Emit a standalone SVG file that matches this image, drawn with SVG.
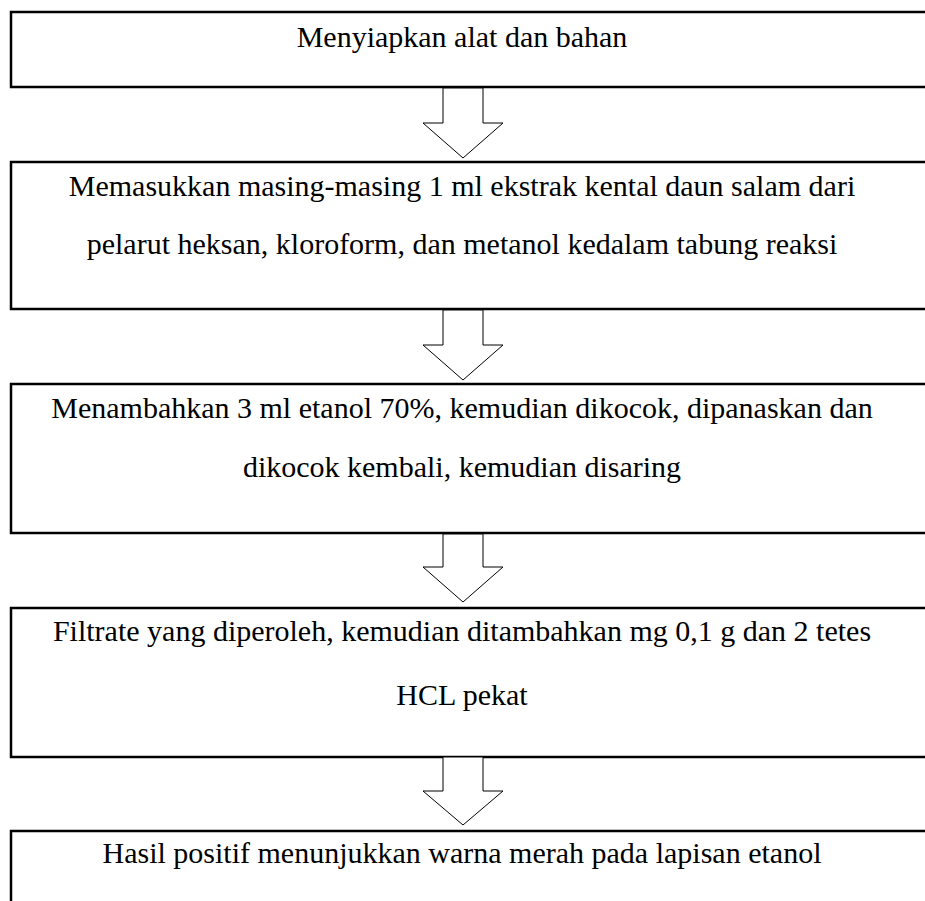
<svg xmlns="http://www.w3.org/2000/svg" width="925" height="901" viewBox="0 0 925 901">
<style>
.box{fill:#fff;stroke:#000;stroke-width:2.5}
.arr{fill:#fff;stroke:#000;stroke-width:1}
text{font-family:"Liberation Serif","Times New Roman",serif;font-size:30px;fill:#000;text-anchor:middle}
</style>
<rect width="925" height="901" fill="#fff"/>
<g id="step1">
<rect class="box" x="11" y="12" width="930" height="75"/>
<text x="462" y="47">Menyiapkan alat dan bahan</text>
</g>
<g id="step2">
<rect class="box" x="11" y="162" width="930" height="147"/>
<text x="462" y="196">Memasukkan masing-masing 1 ml ekstrak kental daun salam dari</text>
<text x="462" y="254">pelarut heksan, kloroform, dan metanol kedalam tabung reaksi</text>
</g>
<g id="step3">
<rect class="box" x="11" y="384" width="930" height="149"/>
<text x="462" y="418">Menambahkan 3 ml etanol 70%, kemudian dikocok, dipanaskan dan</text>
<text x="462" y="477">dikocok kembali, kemudian disaring</text>
</g>
<g id="step4">
<rect class="box" x="11" y="608" width="930" height="149"/>
<text x="462" y="641">Filtrate yang diperoleh, kemudian ditambahkan mg 0,1 g dan 2 tetes</text>
<text x="462" y="705">HCL pekat</text>
</g>
<g id="step5">
<rect class="box" x="11" y="831" width="930" height="100"/>
<text x="462" y="863">Hasil positif menunjukkan warna merah pada lapisan etanol</text>
</g>
<g id="connectors">
<polygon class="arr" points="443,88 483,88 483,123 503,123 463,158 423,123 443,123"/>
<polygon class="arr" points="443,310 483,310 483,345 503,345 463,380 423,345 443,345"/>
<polygon class="arr" points="443,534 483,534 483,567 503,567 463,602 423,567 443,567"/>
<polygon class="arr" points="443,757 483,757 483,791 503,791 463,825 423,791 443,791"/>
</g>
</svg>
